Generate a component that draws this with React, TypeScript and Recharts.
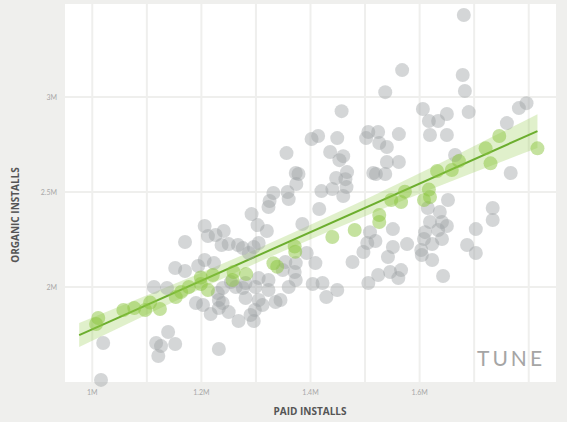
import { ComposedChart, Scatter, Line, Area, XAxis, YAxis, CartesianGrid } from "recharts";

// values in millions of installs
const GRAY_X = [
  1.02, 1.016, 1.113, 1.137, 1.152, 1.17, 1.17, 1.139, 1.117, 1.126, 1.152, 1.121,
  1.194, 1.206, 1.223, 1.206, 1.241, 1.226, 1.212, 1.25, 1.237, 1.232, 1.19, 1.203,
  1.217, 1.232, 1.239, 1.232, 1.25, 1.254, 1.239, 1.23, 1.268, 1.263, 1.276, 1.267,
  1.276, 1.287, 1.296, 1.305, 1.292, 1.303, 1.32, 1.332, 1.325, 1.323, 1.358, 1.36,
  1.356, 1.373, 1.378, 1.374, 1.402, 1.414, 1.449, 1.457, 1.436, 1.46, 1.453, 1.447,
  1.467, 1.464, 1.466, 1.42, 1.44, 1.46, 1.416, 1.385, 1.506, 1.524, 1.502, 1.526,
  1.54, 1.54, 1.562, 1.562, 1.515, 1.52, 1.537, 1.537, 1.568, 1.606, 1.617, 1.634,
  1.65, 1.69, 1.619, 1.65, 1.665, 1.681, 1.679, 1.683, 1.796, 1.782, 1.76, 1.767,
  1.652, 1.615, 1.637, 1.619, 1.641, 1.65, 1.61, 1.634, 1.641, 1.608, 1.623, 1.603,
  1.604, 1.623, 1.577, 1.566, 1.643, 1.703, 1.687, 1.703, 1.734, 1.734, 1.551, 1.509,
  1.519, 1.504, 1.497, 1.551, 1.542, 1.477, 1.524, 1.546, 1.561, 1.506, 1.449, 1.404,
  1.422, 1.429, 1.354, 1.373, 1.409, 1.371, 1.373, 1.36, 1.349, 1.323, 1.305, 1.299,
  1.281, 1.323, 1.281, 1.305, 1.312, 1.336, 1.345, 1.29, 1.296, 1.298, 1.393,
];
const GRAY_Y = [
  1.705, 1.511, 2.0, 1.995, 2.1, 2.084, 2.237, 1.763, 1.705, 1.689, 1.7, 1.637,
  2.111, 2.142, 2.126, 2.321, 2.295, 2.274, 2.268, 2.226, 2.221, 1.674, 1.916, 1.905,
  1.858, 1.932, 1.916, 1.889, 1.868, 2.026, 1.995, 1.968, 1.821, 2.0, 1.995, 2.221,
  2.205, 2.179, 2.211, 2.232, 2.384, 2.326, 2.295, 2.495, 2.453, 2.421, 2.5, 2.463,
  2.705, 2.6, 2.595, 2.542, 2.779, 2.795, 2.784, 2.926, 2.711, 2.689, 2.668, 2.574,
  2.605, 2.568, 2.526, 2.505, 2.516, 2.479, 2.411, 2.332, 2.816, 2.816, 2.784, 2.758,
  2.737, 2.658, 2.658, 2.805, 2.6, 2.595, 2.595, 3.026, 3.142, 2.937, 2.874, 2.874,
  2.911, 2.921, 2.8, 2.8, 2.695, 3.432, 3.116, 3.032, 2.968, 2.942, 2.863, 2.6,
  2.458, 2.416, 2.395, 2.342, 2.342, 2.321, 2.289, 2.3, 2.253, 2.253, 2.226, 2.195,
  2.168, 2.142, 2.226, 2.089, 2.058, 2.305, 2.221, 2.179, 2.416, 2.353, 2.305, 2.289,
  2.242, 2.232, 2.184, 2.211, 2.158, 2.132, 2.063, 2.079, 2.047, 2.021, 1.984, 2.016,
  2.021, 1.947, 2.132, 2.126, 2.126, 2.079, 2.037, 2.0, 2.089, 2.037, 2.047, 2.0,
  2.021, 1.984, 1.942, 1.932, 1.905, 1.921, 1.932, 1.853, 1.821, 1.879, 2.179,
];

const GREEN_X = [
  1.011, 1.007, 1.057, 1.077, 1.097, 1.106, 1.124, 1.153, 1.163, 1.177, 1.199, 1.199,
  1.221, 1.212, 1.259, 1.282, 1.257, 1.332, 1.339, 1.371, 1.372, 1.44, 1.481, 1.526,
  1.526, 1.548, 1.566, 1.573, 1.608, 1.619, 1.617, 1.632, 1.659, 1.672, 1.721, 1.73,
  1.746, 1.816,
];
const GREEN_Y = [
  1.837, 1.805, 1.879, 1.889, 1.879, 1.918, 1.884, 1.947, 1.974, 2.0, 2.05, 2.016,
  2.063, 1.984, 2.079, 2.068, 2.037, 2.125, 2.107, 2.213, 2.186, 2.263, 2.3, 2.379,
  2.342, 2.458, 2.447, 2.502, 2.458, 2.474, 2.513, 2.611, 2.616, 2.663, 2.73, 2.651,
  2.795, 2.73,
];

// fitted line ends and its confidence band
const FIT_X = [0.976, 1.816];
const FIT_Y = [1.747, 2.821];
const BAND_X = [0.976, 1.108, 1.29, 1.427, 1.564, 1.692, 1.816];
const BAND_LO = [1.684, 1.866, 2.112, 2.285, 2.449, 2.595, 2.732];
const BAND_HI = [1.81, 1.966, 2.186, 2.363, 2.549, 2.731, 2.91];

const X_TICKS = [1, 1.2, 1.4, 1.6];
const Y_TICKS = [2, 2.5, 3];
const GRID_X = [1, 1.05, 1.1, 1.15, 1.2, 1.25, 1.3, 1.35, 1.4, 1.45, 1.5, 1.55, 1.6, 1.65, 1.7, 1.75, 1.8];

const BG = "#efefed";
const tickStyle = { fill: "#a8a8a8", fontSize: 7, fontFamily: "Lato, sans-serif" };
const titleStyle: React.CSSProperties = {
  position: "absolute",
  whiteSpace: "nowrap",
  fontFamily: "'Open Sans', sans-serif",
  fontWeight: 700,
  fontSize: 10,
  color: "#555555",
  transform: "translate(-50%, -50%)",
};

function dot(fill: string, opacity: number) {
  return (p: any) => <circle cx={p.cx} cy={p.cy} r={7} fill={fill} fillOpacity={opacity} />;
}

export default function App() {
  const grayData = GRAY_X.map((x, i) => ({ x, y: GRAY_Y[i] }));
  const greenData = GREEN_X.map((x, i) => ({ x, y: GREEN_Y[i] }));
  const fitData = FIT_X.map((x, i) => ({ x, y: FIT_Y[i] }));
  const bandData = BAND_X.map((x, i) => ({ x, range: [BAND_LO[i], BAND_HI[i]] }));

  return (
    <div style={{ position: "absolute", left: 0, top: 0, width: 567, height: 422, background: BG, overflow: "hidden" }}>
      <ComposedChart width={567} height={422} margin={{ top: 4, right: 11, bottom: 0, left: 0 }}>
        <CartesianGrid
          fill="#ffffff"
          fillOpacity={1}
          stroke={BG}
          strokeWidth={2}
          verticalValues={GRID_X}
          horizontalValues={Y_TICKS}
        />
        <XAxis
          type="number"
          dataKey="x"
          domain={[0.95, 1.85]}
          ticks={X_TICKS}
          tickFormatter={(v: number) => `${v}M`}
          height={40}
          axisLine={false}
          tickLine={false}
          tick={tickStyle}
        />
        <YAxis
          type="number"
          dataKey="y"
          domain={[1.5, 3.49]}
          ticks={Y_TICKS}
          tickFormatter={(v: number) => `${v}M`}
          width={65}
          axisLine={false}
          tickLine={false}
          tick={tickStyle}
        />
        <Area data={bandData} dataKey="range" type="monotone" stroke="none" fill="#8cc63f" fillOpacity={0.27} isAnimationActive={false} />
        <Scatter data={grayData} shape={dot("#9ea1a5", 0.44)} isAnimationActive={false} />
        <Scatter data={greenData} shape={dot("#8cc63f", 0.5)} isAnimationActive={false} />
        <Line data={fitData} dataKey="y" type="linear" stroke="#6cae2e" strokeWidth={2} dot={false} isAnimationActive={false} />
      </ComposedChart>
      <div style={{ ...titleStyle, left: 15, top: 215, transform: "translate(-50%, -50%) rotate(-90deg)" }}>ORGANIC INSTALLS</div>
      <div style={{ ...titleStyle, left: 310, top: 411 }}>PAID INSTALLS</div>
      <div
        style={{
          position: "absolute",
          left: 477,
          top: 347,
          lineHeight: "21px",
          fontFamily: "Lato, sans-serif",
          fontWeight: 400,
          fontSize: 21,
          letterSpacing: 3,
          color: "#a5a5a5",
        }}
      >
        TUNE
      </div>
    </div>
  );
}
